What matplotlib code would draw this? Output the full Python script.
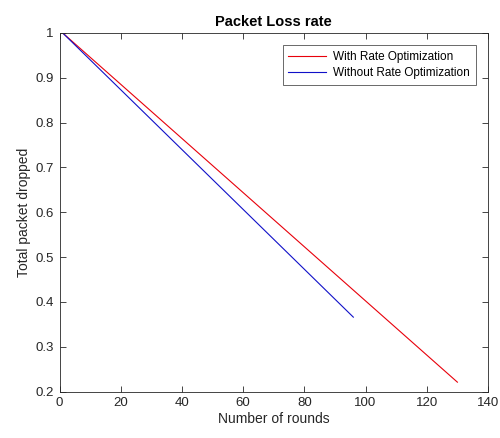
import matplotlib
matplotlib.use("Agg")
import matplotlib.pyplot as plt
from matplotlib.ticker import FuncFormatter

# data
roundsWith = [1, 130]
droppedWith = [1.0, 0.221]
roundsWithout = [1, 96]
droppedWithout = [1.0, 0.366]

xTicks = [0, 20, 40, 60, 80, 100, 120, 140]
yTicks = [0.2, 0.3, 0.4, 0.5, 0.6, 0.7, 0.8, 0.9, 1.0]

plt.rcParams['font.family'] = ['Liberation Sans', 'DejaVu Sans']

fig = plt.figure(figsize=(5, 4.38), dpi=100)
ax = fig.add_axes([0.119, 0.106, 0.857, 0.819])

ax.plot(roundsWith, droppedWith, color='#e8000b', lw=0.8, label='With Rate Optimization')
ax.plot(roundsWithout, droppedWithout, color='#1010c8', lw=0.8, label='Without Rate Optimization')

ax.set_xlim(0, 140)
ax.set_ylim(0.2, 1.0)
ax.set_xticks(xTicks)
ax.set_yticks(yTicks)
ax.yaxis.set_major_formatter(FuncFormatter(lambda v, p: ('%g' % round(v, 2))))

for s in ax.spines.values():
    s.set_color('#262626')
    s.set_linewidth(0.6)
ax.tick_params(direction='in', top=True, right=True, length=4, width=0.6,
               colors='#262626', labelsize=9.5, pad=4)

ax.set_title('Packet Loss rate', fontsize=10.5, fontweight='bold', pad=5)
ax.set_xlabel('Number of rounds', fontsize=10, color='#262626', labelpad=2)
ax.set_ylabel('Total packet dropped', fontsize=10, color='#262626', labelpad=3)

leg = ax.legend(loc='upper right', bbox_to_anchor=(0.972, 0.965), fontsize=8.5,
                frameon=True, fancybox=False, handlelength=3.2, handletextpad=0.6,
                borderpad=0.5, labelspacing=0.3, borderaxespad=0)
leg.get_frame().set_edgecolor('#262626')
leg.get_frame().set_linewidth(0.6)

fig.savefig('out.png', dpi=100)
